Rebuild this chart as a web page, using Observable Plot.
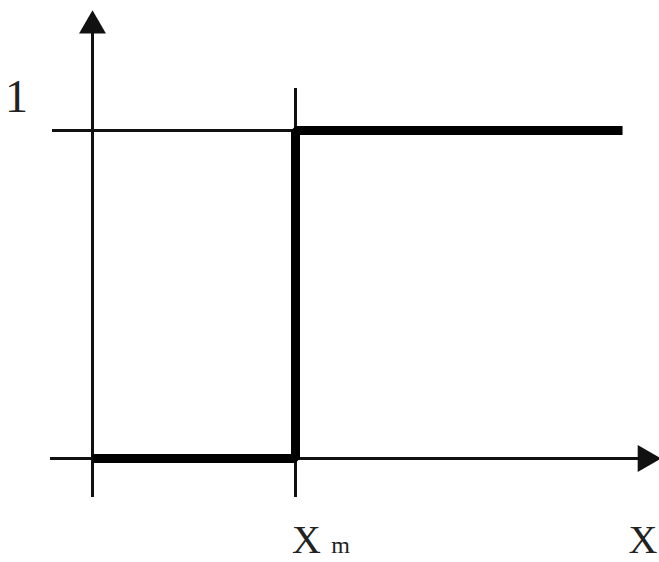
<!DOCTYPE html>
<html>
<head>
<meta charset="utf-8">
<script src="https://cdn.jsdelivr.net/npm/d3@7"></script>
<script src="https://cdn.jsdelivr.net/npm/@observablehq/plot@0.6"></script>
<style>
  html, body { margin: 0; padding: 0; background: #fff; }
</style>
</head>
<body>
<div id="chart"></div>
<script>
// Step function: 0 for X < Xm, 1 for X >= Xm
const stepX = [0, 1, 1, 2.611];
const stepY = [0, 0, 1, 1];

// axis extents (data units, Xm = 1, level 1 = 1)
const xAxisFrom = -0.207, xAxisTo = 2.70;
const yAxisFrom = -0.119, yAxisTo = 1.30;
const arrowX = [2.724];
const arrowY = [1.3195];

// reference lines
const levelLineFrom = -0.197;
const xmLineFrom = -0.119, xmLineTo = 1.128;

// labels
const yTickLabel = "1";
const xmLabel = "X";
const xmSub = "m";
const xLabel = "X";

const step = stepX.map((x, i) => ({x, y: stepY[i]}));
const ink = "#111";
const serif = "'Liberation Serif', 'DejaVu Serif', serif";

const chart = Plot.plot({
  width: 659,
  height: 562,
  margin: 0,
  x: {domain: [0, 1], range: [92, 295], axis: null},
  y: {domain: [0, 1], range: [458, 130], axis: null},
  style: {background: "#fff", fontFamily: serif},
  marks: [
    // thin level line at y = 1
    Plot.ruleY([1], {x1: levelLineFrom, x2: 1, stroke: ink, strokeWidth: 3}),
    // thin vertical line at Xm
    Plot.ruleX([1], {y1: xmLineFrom, y2: xmLineTo, stroke: ink, strokeWidth: 3}),
    // axes
    Plot.ruleX([0], {y1: yAxisFrom, y2: yAxisTo, stroke: ink, strokeWidth: 3}),
    Plot.ruleY([0], {x1: xAxisFrom, x2: xAxisTo, stroke: ink, strokeWidth: 3}),
    Plot.dot([0], {x: 0, y: () => arrowY[0], symbol: "triangle", r: 10, fill: ink, stroke: "none"}),
    Plot.dot([0], {x: () => arrowX[0], y: 0, symbol: "triangle", r: 10, rotate: 90, fill: ink, stroke: "none"}),
    // step function
    Plot.line(step, {x: "x", y: "y", stroke: "#000", strokeWidth: 9, strokeLinejoin: "miter", strokeLinecap: "butt", curve: "linear"}),
    // labels
    Plot.text([yTickLabel], {x: -0.374, y: 1.055, text: d => d, fontSize: 46, lineAnchor: "bottom", fill: "#222", fontFamily: serif}),
    Plot.text([xmLabel], {x: 1.054, y: -0.2896, text: d => d, fontSize: 40, lineAnchor: "bottom", fill: "#222", fontFamily: serif}),
    Plot.text([xmSub], {x: 1.222, y: -0.2896, text: d => d, fontSize: 24, lineAnchor: "bottom", fill: "#222", fontFamily: serif}),
    Plot.text([xLabel], {x: 2.6404, y: -0.2896, text: d => d, fontSize: 40, lineAnchor: "bottom", textAnchor: "start", fill: "#222", fontFamily: serif})
  ]
});
document.getElementById("chart").append(chart);
</script>
</body>
</html>
